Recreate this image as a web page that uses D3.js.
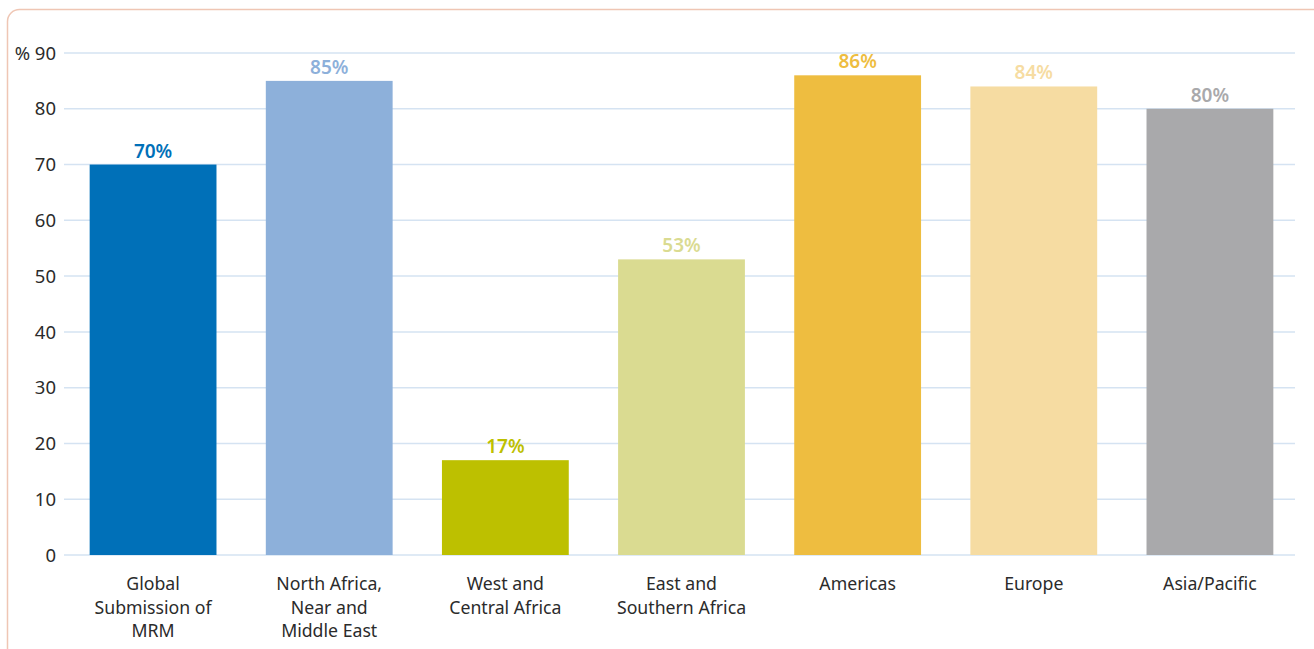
<!DOCTYPE html>
<html>
<head>
<meta charset="utf-8">
<script src="https://cdn.jsdelivr.net/npm/d3@7"></script>
<style>
  body { margin: 0; background: #fff; }
  svg text { font-family: "Noto Sans", "Open Sans", sans-serif; }
</style>
</head>
<body>
<div id="chart"></div>
<script>
// data
var categories = [
  ["Global", "Submission of", "MRM"],
  ["North Africa,", "Near and", "Middle East"],
  ["West and", "Central Africa"],
  ["East and", "Southern Africa"],
  ["Americas"],
  ["Europe"],
  ["Asia/Pacific"]
];
var values = [70, 85, 17, 53, 86, 84, 80];
var barColors = ["#0070b8", "#8db0da", "#bdc000", "#dadb91", "#eebd40", "#f6dca2", "#a9a9ab"];
var yTicks = [0, 10, 20, 30, 40, 50, 60, 70, 80, 90];

var width = 1314, height = 649;

var svg = d3.select("#chart")
  .append("svg")
  .attr("width", width)
  .attr("height", height);

// outer frame
svg.append("rect")
  .attr("x", 7.5)
  .attr("y", 9.5)
  .attr("width", 1320)
  .attr("height", 700)
  .attr("rx", 12)
  .attr("fill", "none")
  .attr("stroke", "#efc6b4")
  .attr("stroke-width", 1.5);

var idx = d3.range(values.length);

var x = d3.scaleBand()
  .domain(idx)
  .range([65, 1298])
  .paddingInner(0.28)
  .paddingOuter(0.14);

var y = d3.scaleLinear()
  .domain([0, 90])
  .range([555, 53]);

// gridlines
svg.append("g")
  .selectAll("line")
  .data(yTicks)
  .join("line")
  .attr("x1", 64)
  .attr("x2", 1295)
  .attr("y1", function (d) { return y(d); })
  .attr("y2", function (d) { return y(d); })
  .attr("stroke", "#d5e3f2")
  .attr("stroke-width", 1.5);

// y axis labels
svg.append("g")
  .selectAll("text")
  .data(yTicks)
  .join("text")
  .attr("x", 56)
  .attr("y", function (d) { return y(d); })
  .attr("dy", "0.36em")
  .attr("text-anchor", "end")
  .attr("font-size", 18.5)
  .attr("fill", "#2b2b2b")
  .text(function (d) { return d === 90 ? "% 90" : d; });

// bars
svg.append("g")
  .selectAll("rect")
  .data(idx)
  .join("rect")
  .attr("x", function (i) { return x(i); })
  .attr("y", function (i) { return y(values[i]); })
  .attr("width", x.bandwidth())
  .attr("height", function (i) { return y(0) - y(values[i]); })
  .attr("fill", function (i) { return barColors[i]; });

// value labels
svg.append("g")
  .selectAll("text")
  .data(idx)
  .join("text")
  .attr("x", function (i) { return x(i) + x.bandwidth() / 2; })
  .attr("y", function (i) { return y(values[i]) - 7; })
  .attr("text-anchor", "middle")
  .attr("font-size", 19)
  .attr("font-weight", 600)
  .attr("fill", function (i) { return barColors[i]; })
  .text(function (i) { return values[i] + "%"; });

// category labels
var cat = svg.append("g")
  .selectAll("text")
  .data(idx)
  .join("text")
  .attr("text-anchor", "middle")
  .attr("font-size", 17.7)
  .attr("fill", "#2b2b2b");

cat.selectAll("tspan")
  .data(function (i) {
    return categories[i].map(function (t) { return { i: i, t: t }; });
  })
  .join("tspan")
  .attr("x", function (d) { return x(d.i) + x.bandwidth() / 2; })
  .attr("y", function (d, k) { return 590 + k * 23.5; })
  .text(function (d) { return d.t; });
</script>
</body>
</html>
